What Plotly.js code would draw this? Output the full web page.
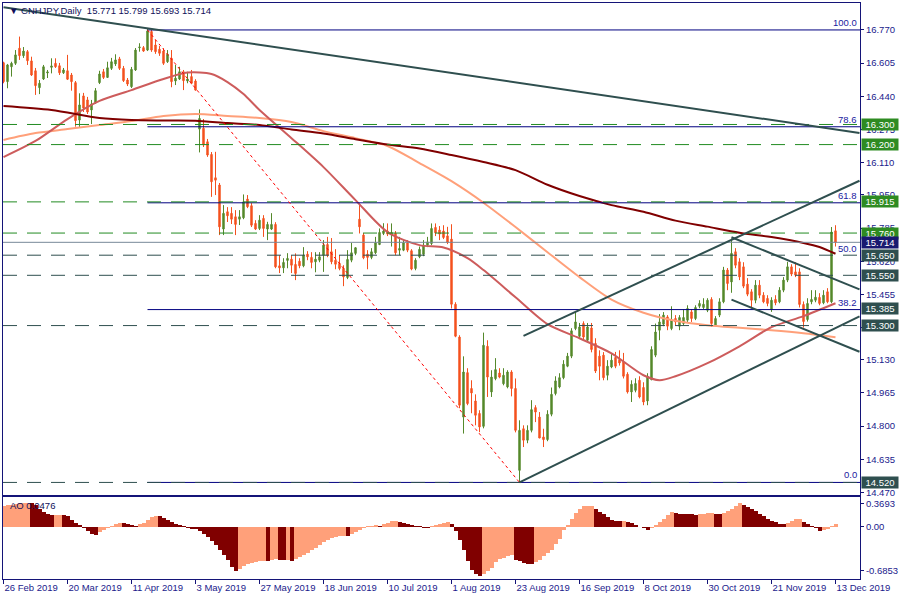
<!DOCTYPE html>
<html><head><meta charset="utf-8">
<script src="https://cdn.plot.ly/plotly-3.0.1.min.js"></script>
<style>html,body{margin:0;padding:0;background:#fff}#chart{width:900px;height:600px}</style>
</head><body><div id="chart"></div>
<script>
const symbol = 'CNHJPY', timeframe = 'Daily';
const opens = [16.607,16.513,16.587,16.604,16.679,16.642,16.662,16.616,16.567,16.483,
16.526,16.556,16.584,16.604,16.592,16.557,16.567,16.546,16.508,16.322,
16.442,16.422,16.372,16.408,16.508,16.562,16.534,16.579,16.601,16.626,
16.579,16.521,16.488,16.571,16.682,16.682,16.670,16.762,16.695,16.674,
16.665,16.612,16.629,16.516,16.526,16.562,16.516,16.538,16.516,16.277,
16.281,16.214,16.151,16.035,15.999,15.780,15.866,15.858,15.841,15.829,
15.836,15.929,15.896,15.808,15.783,15.833,15.780,15.780,15.803,15.597,
15.587,15.624,15.630,15.604,15.620,15.597,15.655,15.639,15.617,15.625,
15.650,15.703,15.667,15.625,15.609,15.584,15.539,15.625,15.659,15.829,
15.750,15.655,15.639,15.662,15.703,15.758,15.770,15.755,15.758,15.675,
15.675,15.711,15.672,15.584,15.642,15.655,15.700,15.708,15.788,15.775,
15.770,15.746,15.730,15.406,15.243,14.845,15.066,14.987,14.925,14.863,
14.799,15.197,14.970,15.036,15.064,15.011,14.995,15.069,14.987,14.580,
14.787,14.730,14.779,14.892,14.845,14.746,14.733,14.859,14.962,14.995,
15.041,15.098,15.148,15.285,15.247,15.310,15.227,15.288,15.211,15.148,
15.153,15.053,15.094,15.141,15.131,15.119,15.058,14.970,14.978,15.028,
14.992,14.925,15.031,15.153,15.277,15.307,15.343,15.285,15.335,15.297,
15.310,15.327,15.368,15.335,15.396,15.390,15.376,15.430,15.302,15.352,
15.418,15.576,15.517,15.667,15.617,15.592,15.506,15.468,15.426,15.501,
15.451,15.435,15.380,15.430,15.418,15.476,15.526,15.592,15.567,15.567,
15.405,15.330,15.418,15.426,15.440,15.413,15.468,15.418,15.771];
const highs = [16.612,16.601,16.612,16.670,16.737,16.685,16.670,16.637,16.581,16.521,
16.596,16.571,16.629,16.629,16.606,16.581,16.646,16.556,16.516,16.455,
16.457,16.437,16.422,16.481,16.567,16.576,16.612,16.631,16.649,16.636,
16.591,16.531,16.586,16.680,16.704,16.690,16.775,16.770,16.720,16.690,
16.680,16.670,16.670,16.596,16.587,16.571,16.562,16.571,16.525,16.375,
16.327,16.228,16.163,16.164,16.009,15.899,15.889,15.889,15.874,15.874,
15.952,15.949,15.909,15.824,15.849,15.849,15.816,15.859,15.814,15.650,
15.635,15.660,15.650,15.659,15.635,15.690,15.670,15.665,15.665,15.665,
15.725,15.741,15.735,15.680,15.650,15.600,15.675,15.711,15.690,15.907,
15.760,15.675,15.685,15.741,15.783,15.809,15.808,15.808,15.770,15.741,
15.730,15.725,15.680,15.635,15.693,15.725,15.741,15.808,15.808,15.795,
15.799,15.791,15.804,15.416,15.252,15.147,15.088,15.028,14.958,14.879,
15.265,15.227,15.078,15.138,15.088,15.088,15.078,15.078,15.037,14.829,
14.804,14.804,14.929,14.904,14.870,14.787,14.879,14.992,15.048,15.063,
15.128,15.164,15.287,15.368,15.313,15.321,15.313,15.313,15.237,15.177,
15.168,15.128,15.158,15.169,15.177,15.164,15.068,15.028,15.038,15.048,
15.018,15.063,15.197,15.310,15.357,15.367,15.352,15.396,15.352,15.352,
15.381,15.401,15.381,15.401,15.426,15.436,15.436,15.441,15.347,15.436,
15.592,15.586,15.733,15.685,15.635,15.615,15.536,15.481,15.526,15.526,
15.466,15.451,15.441,15.451,15.491,15.541,15.617,15.605,15.615,15.585,
15.420,15.436,15.476,15.476,15.461,15.476,15.486,15.790,15.799];
const lows = [16.505,16.480,16.538,16.596,16.621,16.631,16.596,16.541,16.447,16.451,
16.521,16.531,16.554,16.581,16.546,16.551,16.521,16.468,16.289,16.286,
16.362,16.352,16.302,16.402,16.501,16.526,16.531,16.571,16.591,16.571,
16.511,16.491,16.481,16.566,16.662,16.661,16.665,16.661,16.651,16.641,
16.596,16.606,16.485,16.496,16.521,16.471,16.505,16.500,16.468,16.161,
16.188,16.139,15.940,15.949,15.750,15.750,15.815,15.805,15.750,15.800,
15.829,15.884,15.790,15.775,15.775,15.741,15.725,15.775,15.585,15.561,
15.561,15.585,15.561,15.526,15.585,15.590,15.625,15.585,15.565,15.615,
15.567,15.640,15.605,15.580,15.575,15.496,15.531,15.615,15.650,15.758,
15.630,15.580,15.630,15.655,15.700,15.750,15.745,15.693,15.650,15.650,
15.670,15.665,15.575,15.575,15.635,15.645,15.690,15.700,15.745,15.725,
15.730,15.705,15.385,15.242,14.889,14.763,14.904,14.864,14.804,14.770,
14.789,14.945,14.945,15.028,15.038,15.003,14.988,14.948,14.769,14.520,
14.696,14.715,14.769,14.820,14.740,14.696,14.725,14.849,14.953,14.988,
15.033,15.093,15.138,15.277,15.237,15.227,15.217,15.167,15.064,15.028,
15.028,15.028,15.088,15.088,15.101,15.037,14.962,14.920,14.968,14.938,
14.904,14.904,15.028,15.143,15.227,15.297,15.277,15.277,15.302,15.277,
15.302,15.317,15.318,15.327,15.386,15.381,15.367,15.293,15.297,15.342,
15.411,15.476,15.463,15.585,15.526,15.486,15.446,15.385,15.411,15.436,
15.411,15.396,15.368,15.401,15.411,15.466,15.516,15.546,15.541,15.390,
15.290,15.320,15.406,15.416,15.401,15.406,15.411,15.411,15.693];
const closes = [16.513,16.596,16.604,16.646,16.642,16.665,16.617,16.546,16.493,16.505,
16.587,16.561,16.591,16.587,16.557,16.571,16.525,16.513,16.319,16.397,
16.382,16.362,16.402,16.468,16.551,16.534,16.582,16.612,16.621,16.579,
16.518,16.501,16.574,16.670,16.685,16.665,16.765,16.670,16.662,16.654,
16.604,16.649,16.513,16.530,16.562,16.518,16.526,16.505,16.471,16.330,
16.198,16.148,16.015,16.023,15.791,15.858,15.846,15.829,15.803,15.841,
15.915,15.891,15.799,15.780,15.824,15.783,15.803,15.803,15.592,15.587,
15.614,15.634,15.600,15.559,15.597,15.650,15.642,15.614,15.630,15.642,
15.700,15.650,15.617,15.605,15.584,15.542,15.629,15.662,15.687,15.791,
15.637,15.639,15.667,15.711,15.763,15.770,15.755,15.763,15.662,15.683,
15.711,15.675,15.581,15.625,15.679,15.700,15.716,15.783,15.761,15.755,
15.738,15.713,15.406,15.247,14.904,15.069,14.912,14.965,14.854,14.796,
15.202,15.044,15.044,15.081,15.044,15.053,15.069,14.987,14.779,14.779,
14.730,14.779,14.882,14.870,14.741,14.733,14.859,14.958,15.025,15.041,
15.108,15.148,15.274,15.318,15.293,15.243,15.293,15.181,15.074,15.098,
15.041,15.098,15.128,15.098,15.114,15.048,14.970,15.008,15.012,14.945,
14.920,15.048,15.181,15.268,15.318,15.352,15.297,15.327,15.318,15.340,
15.340,15.385,15.335,15.390,15.410,15.406,15.426,15.310,15.335,15.418,
15.576,15.509,15.659,15.600,15.542,15.496,15.456,15.426,15.501,15.451,
15.418,15.410,15.426,15.413,15.476,15.526,15.592,15.556,15.551,15.405,
15.320,15.410,15.430,15.441,15.410,15.451,15.418,15.765,15.714];
const aoValues = [0.33,0.34,0.35,0.36,0.37,0.375,0.38,0.375,0.339,0.286,
0.234,0.198,0.185,0.19,0.195,0.19,0.17,0.115,0.07,0.03,
-0.02,-0.07,-0.115,-0.125,-0.08,-0.05,-0.02,0.02,0.045,0.06,
0.055,0.04,0.025,0.02,0.04,0.07,0.11,0.15,0.17,0.165,
0.14,0.11,0.08,0.05,0.025,0.01,-0.02,-0.025,-0.03,-0.0625,
-0.104,-0.156,-0.219,-0.286,-0.365,-0.443,-0.516,-0.62,-0.682,-0.651,
-0.615,-0.583,-0.563,-0.547,-0.536,-0.531,-0.536,-0.51,-0.505,-0.52,
-0.521,-0.51,-0.531,-0.495,-0.469,-0.443,-0.406,-0.365,-0.323,-0.276,
-0.234,-0.198,-0.167,-0.151,-0.141,-0.135,-0.146,-0.104,-0.073,-0.042,
-0.01,0.01,0.016,0.026,0.016,0.042,0.068,0.089,0.094,0.083,
0.068,0.047,0.031,0.021,0.01,-0.01,-0.012,0.021,0.036,0.052,
0.068,0.083,0.042,-0.0625,-0.208,-0.365,-0.531,-0.667,-0.729,-0.771,
-0.729,-0.688,-0.646,-0.547,-0.495,-0.479,-0.458,-0.443,-0.51,-0.536,
-0.563,-0.573,-0.583,-0.547,-0.51,-0.458,-0.406,-0.354,-0.26,-0.182,
-0.052,0.036,0.12,0.219,0.276,0.323,0.328,0.333,0.276,0.234,
0.198,0.156,0.104,0.099,0.094,0.099,0.078,0.057,0.031,-0.003,
-0.016,-0.042,-0.01,0.036,0.078,0.125,0.182,0.229,0.224,0.208,
0.203,0.198,0.197,0.193,0.203,0.208,0.214,0.219,0.208,0.198,
0.219,0.25,0.286,0.323,0.3693,0.344,0.313,0.281,0.245,0.208,
0.167,0.125,0.094,0.073,0.052,0.047,0.068,0.094,0.12,0.122,
0.073,0.042,0.016,-0.016,-0.0625,-0.052,-0.026,0.01,0.0476];

const maLongBars = [0,12,24,32,40,48,56,64,72,80,88,96,104,112,120,128,136,144,152,160,168,176,184,192,200,204,208];
const maLongValues = [16.392,16.372,16.332,16.322,16.320,16.319,16.307,16.297,16.275,16.255,16.227,16.200,16.180,16.148,16.113,16.073,16.000,15.944,15.899,15.866,15.822,15.792,15.762,15.740,15.711,15.691,15.657];
const maMidBars = [0,8,16,24,32,40,46,52,56,60,64,72,80,88,96,104,110,116,120,128,136,144,152,160,164,168,176,184,192,200,208];
const maMidValues = [16.138,16.218,16.327,16.417,16.471,16.526,16.558,16.551,16.511,16.451,16.372,16.232,16.088,15.924,15.765,15.700,15.688,15.635,15.576,15.441,15.307,15.237,15.162,15.053,15.028,15.048,15.113,15.197,15.292,15.347,15.411];
const maLightBars = [0,8,16,24,32,40,48,56,64,72,80,88,96,104,112,120,128,136,144,152,160,168,176,184,192,200,208];
const maLightValues = [16.223,16.257,16.277,16.297,16.317,16.342,16.352,16.342,16.332,16.312,16.267,16.232,16.193,16.108,16.018,15.911,15.790,15.665,15.541,15.429,15.364,15.324,15.302,15.289,15.277,15.262,15.242];

const tickBars = [0,16,32,48,64,80,96,112,128,144,160,176,192,208];
const tickLabels = ['26 Feb 2019','20 Mar 2019','11 Apr 2019','3 May 2019','27 May 2019','18 Jun 2019','10 Jul 2019','1 Aug 2019','23 Aug 2019','16 Sep 2019','8 Oct 2019','30 Oct 2019','21 Nov 2019','13 Dec 2019'];
const priceTicks = [16.770,16.605,16.440,16.275,16.110,15.950,15.785,15.620,15.455,15.290,15.130,14.965,14.800,14.635,14.470];
const aoTicks = [0.3693, 0, -0.6853];
const aoTickLabels = ['0.3693','0.00','-0.6853'];

const greenLevels = [16.300, 16.200, 15.915, 15.760];
const slateLevels = [15.650, 15.550, 15.300, 14.520];
const slateLabelOnly = [15.385];
const bidPrice = 15.714;
const fibHigh = 16.770, fibLow = 14.520, fibHighBar = 36, fibLowBar = 129;
const fibLineRatios = [0, 38.2, 61.8, 78.6, 100];
const fibLabelRatios = [0, 38.2, 50, 61.8, 78.6, 100];
// [bar0, price0, bar1, price1]
const trendLines = [
  [0, 16.883, 214, 16.258],
  [129, 14.520, 214, 15.346],
  [130, 15.249, 214, 16.020],
  [182, 15.739, 214, 15.480],
  [182, 15.429, 214, 15.170]
];

// ---- styling / drawing ----
const FONT = '"Liberation Sans", Arial, "DejaVu Sans", sans-serif';
const NAVY = '#141478';
const BULL = '#55892b', BEAR = '#f4511e';
const X0 = -0.125, X1 = 214.125;
const idx = opens.map((_, i) => i);

const traces = [];
traces.push({type:'candlestick', x:idx, open:opens, high:highs, low:lows, close:closes,
  xaxis:'x', yaxis:'y', whiskerwidth:0, hoverinfo:'skip', showlegend:false,
  increasing:{line:{color:BULL, width:1}, fillcolor:BULL},
  decreasing:{line:{color:BEAR, width:1}, fillcolor:BEAR}});
[[maLightBars, maLightValues, '#ffa07a'], [maMidBars, maMidValues, '#cd5c5c'], [maLongBars, maLongValues, '#800000']].forEach(m => {
  traces.push({type:'scatter', mode:'lines', x:m[0], y:m[1], xaxis:'x', yaxis:'y', hoverinfo:'skip', showlegend:false,
    line:{color:m[2], width:2, shape:'spline', smoothing:0.8}});
});
const aoColors = aoValues.map((v, i) => (i === 0 || v > aoValues[i-1]) ? '#ffa07a' : '#800000');
traces.push({type:'bar', x:idx, y:aoValues, xaxis:'x2', yaxis:'y2', width:1, hoverinfo:'skip', showlegend:false,
  marker:{color:aoColors, line:{width:0}}});

const shapes = [];
const fibPrice = r => fibLow + (fibHigh - fibLow) * r / 100;
fibLineRatios.forEach(r => shapes.push({type:'line', xref:'x', yref:'y', x0:fibHighBar, x1:X1, y0:fibPrice(r), y1:fibPrice(r), line:{color:'#000080', width:1}}));
greenLevels.forEach(p => shapes.push({type:'line', xref:'paper', yref:'y', x0:0, x1:1, y0:p, y1:p, line:{color:'#228b22', width:1, dash:'14px,10px'}}));
slateLevels.forEach(p => shapes.push({type:'line', xref:'paper', yref:'y', x0:0, x1:1, y0:p, y1:p, line:{color:'#2f4f4f', width:1, dash:'14px,10px'}}));
shapes.push({type:'line', xref:'paper', yref:'y', x0:0, x1:1, y0:bidPrice, y1:bidPrice, line:{color:'#778899', width:1}});
trendLines.forEach(t => shapes.push({type:'line', xref:'x', yref:'y', x0:t[0], y0:t[1], x1:t[2], y1:t[3], line:{color:'#2f4f4f', width:2}}));
shapes.push({type:'line', xref:'x', yref:'y', x0:fibHighBar, y0:fibHigh, x1:fibLowBar, y1:fibLow, line:{color:'#ff0000', width:1, dash:'dot'}});

const annotations = [];
const boxAnn = (p, color) => ({xref:'paper', x:1, xanchor:'left', xshift:1, yref:'y', y:p, yanchor:'middle',
  text:p.toFixed(3), showarrow:false, bgcolor:color, width:36, height:11, borderpad:0, align:'center',
  font:{family:FONT, size:9.5, color:'#ffffff'}});
greenLevels.forEach(p => annotations.push(boxAnn(p, '#2e8b22')));
slateLevels.concat(slateLabelOnly).forEach(p => annotations.push(boxAnn(p, '#2f4f4f')));
annotations.push(boxAnn(bidPrice, '#191970'));
fibLabelRatios.forEach(r => annotations.push({xref:'paper', x:1, xanchor:'right', xshift:-1, yref:'y', y:fibPrice(r), yanchor:'bottom',
  text:r.toFixed(1), showarrow:false, font:{family:FONT, size:9.5, color:'#1a1aa0'}}));
const last = opens.length - 1;
annotations.push({xref:'paper', yref:'paper', x:(7-3)/857, y:(579-11)/576, xanchor:'left', yanchor:'middle', showarrow:false,
  text:'▼ ' + symbol + ',' + timeframe + '\u00a0\u00a0' + [opens[last], highs[last], lows[last], closes[last]].map(v => v.toFixed(3)).join(' '),
  font:{family:FONT, size:9.5, color:'#10105a'}});
annotations.push({xref:'paper', yref:'paper', x:(8-3)/857, y:(579-505)/576, xanchor:'left', yanchor:'middle', showarrow:false,
  text:'AO ' + aoValues[last].toFixed(4), font:{family:FONT, size:9.5, color:'#10105a'}});

const tickfont = {family:FONT, size:9.5, color:'#1a1a8c'};
const layout = {
  width:900, height:600, paper_bgcolor:'#ffffff', plot_bgcolor:'#ffffff',
  margin:{l:3, r:40, t:3, b:21}, showlegend:false, boxgap:0.5, bargap:0, hovermode:false,
  xaxis:{domain:[0,1], anchor:'y', range:[X0,X1], showticklabels:false, ticks:'', showgrid:false, zeroline:false,
    showline:true, mirror:true, linecolor:NAVY, linewidth:1, rangeslider:{visible:false}, fixedrange:true},
  yaxis:{domain:[0.1467,1], anchor:'x', range:[14.460,16.904], side:'right', tickvals:priceTicks, ticktext:priceTicks.map(v => v.toFixed(3)),
    ticks:'outside', ticklen:3, tickcolor:NAVY, showgrid:false, zeroline:false, showline:true, mirror:true, linecolor:NAVY, linewidth:1, tickfont:tickfont},
  xaxis2:{domain:[0,1], anchor:'y2', range:[X0,X1], tickvals:tickBars, ticktext:tickLabels, ticks:'outside', ticklen:4, tickcolor:NAVY,
    ticklabelposition:'outside right', showgrid:false, zeroline:false, showline:true, mirror:true, linecolor:NAVY, linewidth:1, tickfont:tickfont},
  yaxis2:{domain:[0,0.1424], anchor:'x2', range:[-0.8125,0.469], side:'right', tickvals:aoTicks, ticktext:aoTickLabels,
    ticks:'outside', ticklen:3, tickcolor:NAVY, showgrid:false, zeroline:false, showline:true, mirror:true, linecolor:NAVY, linewidth:1, tickfont:tickfont},
  shapes:shapes, annotations:annotations
};
Plotly.newPlot('chart', traces, layout, {staticPlot:true, displayModeBar:false});
</script>
</body></html>
